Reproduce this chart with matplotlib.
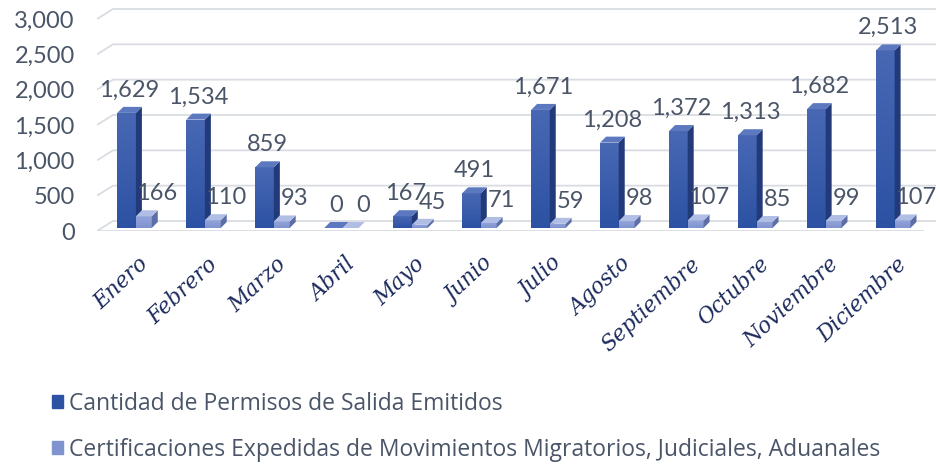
import matplotlib
matplotlib.use('Agg')
import matplotlib.pyplot as plt
from matplotlib.patches import Polygon, Patch
import numpy as np

months = ['Enero', 'Febrero', 'Marzo', 'Abril', 'Mayo', 'Junio', 'Julio',
          'Agosto', 'Septiembre', 'Octubre', 'Noviembre', 'Diciembre']
permisos = [1629, 1534, 859, 0, 167, 491, 1671, 1208, 1372, 1313, 1682, 2513]
certificaciones = [166, 110, 93, 0, 45, 71, 59, 98, 107, 85, 99, 107]
y_ticks = [0, 500, 1000, 1500, 2000, 2500, 3000]
series_names = ['Cantidad de Permisos de Salida Emitidos',
                'Certificaciones Expedidas de Movimientos Migratorios, Judiciales, Aduanales']

TEXT = '#4a5568'
NAVY = '#1b2a5c'
GRID = '#d9dce2'
BIG = dict(front=('#4868b4', '#2d52a3'), side='#22397a', top='#5c79c0')
SMALL = dict(front=('#93a5da', '#7f93cf'), side='#5d6ea6', top='#b0bee6')

W, H = 940, 465
fig = plt.figure(figsize=(W / 100, H / 100), dpi=100)
ax = fig.add_axes([97 / W, 234 / H, 839 / W, 231 / H])
PX_X = 69.0                 # pixels per category
PX_Y = 3000 / 212.0         # data units per pixel
XLIM = (-0.594, 11.57)
YLIM = (0, 231 * PX_Y)
ax.set_xlim(*XLIM)
ax.set_ylim(*YLIM)
for sp in ax.spines.values():
    sp.set_visible(False)

# perspective gridlines (back wall + floor)
GDX, GDY = 16 / PX_X, 10 * PX_Y
x0, x1 = XLIM
for v in y_ticks:
    ax.plot([x0, x0 + GDX, x1], [v, v + GDY, v + GDY], color=GRID, lw=1.3,
            zorder=0, solid_capstyle='butt')
ax.plot([x0, 11.38], [0, 0], color=GRID, lw=1.3, zorder=0)

DX, DY = 6 / PX_X, 6 * PX_Y
BASE = 3 * PX_Y
grad = np.linspace(0, 1, 64).reshape(-1, 1)


def bar3d(xl, w, h, c, z):
    bars = ax.bar(xl, h, width=w, bottom=BASE, align='edge', color=c['front'][1],
                  zorder=z, linewidth=0)
    b, t = BASE, BASE + h
    if h > 0:
        cmap = matplotlib.colors.LinearSegmentedColormap.from_list('g', [c['front'][1], c['front'][0]])
        im = ax.imshow(grad, extent=(xl, xl + w, b, t), origin='lower', cmap=cmap,
                       aspect='auto', zorder=z, interpolation='bilinear')
        im.set_clip_path(bars[0])
    ax.add_patch(Polygon([(xl + w, b), (xl + w + DX, b + DY), (xl + w + DX, t + DY),
                          (xl + w, t)], closed=True, fc=c['side'], ec='none', zorder=z))
    ax.add_patch(Polygon([(xl, t), (xl + DX, t + DY), (xl + w + DX, t + DY),
                          (xl + w, t)], closed=True, fc=c['top'], ec='none', zorder=z))


lab_font = dict(family='Lato', size=17, color=TEXT)
WB, WS = 0.27, 0.23
for i, (p, c) in enumerate(zip(permisos, certificaciones)):
    xb = i - 0.30
    xs = i - 0.03
    bar3d(xb, WB, p, BIG, 2 + 2 * i)
    bar3d(xs, WS, c, SMALL, 3 + 2 * i)
    ax.annotate(f'{p:,}', xy=(xb + WB / 2 + DX / 2, BASE + p + DY), xytext=(0, 12),
                textcoords='offset points', ha='center', va='center', zorder=40, **lab_font)
    ax.annotate(f'{c:,}', xy=(xs + WS / 2 + DX / 2, BASE + c + DY), xytext=(7, 12),
                textcoords='offset points', ha='center', va='center', zorder=40, **lab_font)

ax.set_xlim(*XLIM)
ax.set_ylim(*YLIM)
ax.set_yticks(y_ticks)
ax.set_yticklabels([f'{v:,}' for v in y_ticks], fontdict=dict(family='Lato', size=17),
                   color=TEXT)
ax.tick_params(axis='y', length=0, pad=16)
ax.set_xticks(range(len(months)))
ax.set_xticklabels(months, rotation=43, ha='right', rotation_mode='anchor',
                   fontdict=dict(family='DejaVu Serif', style='italic', size=15.5),
                   color=NAVY)
ax.tick_params(axis='x', length=0, pad=16)

handles = [Patch(color=BIG['front'][1]), Patch(color=SMALL['front'][1])]
fig.legend(handles, series_names, loc='upper left', bbox_to_anchor=(52 / W, 1 - 392 / H),
           frameon=False, handlelength=0.5, handleheight=0.5, handletextpad=0.25,
           labelspacing=0.95, prop=dict(family='Open Sans', size=16.5), labelcolor=TEXT,
           borderaxespad=0, borderpad=0)

fig.savefig('out.png', dpi=100)
